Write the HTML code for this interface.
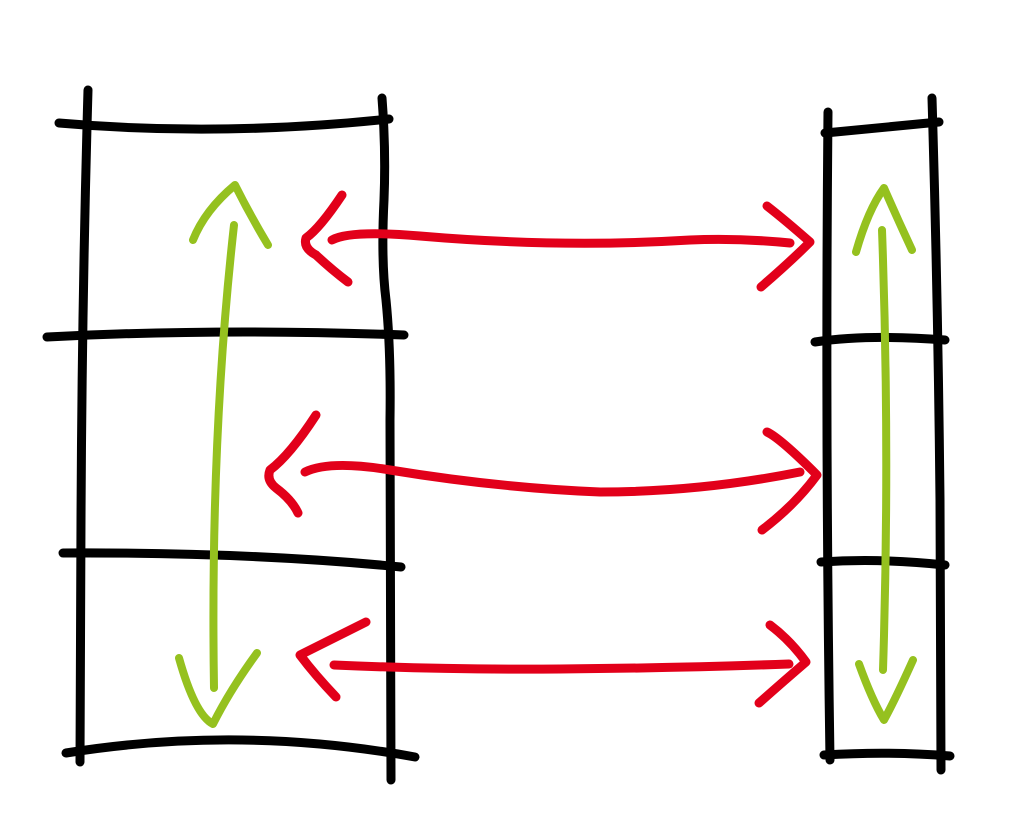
<!DOCTYPE html>
<html><head><meta charset="utf-8"><style>
html,body{margin:0;padding:0;background:#fff;}
svg{display:block;}
</style></head><body>
<svg width="1024" height="838" viewBox="0 0 1024 838" xmlns="http://www.w3.org/2000/svg" fill="none" stroke-linecap="round" stroke-linejoin="round">
<g stroke="#000" stroke-width="9">
<path d="M88 90 Q82 300 81 520 L80 762"/>
<path d="M382 98 Q386 150 384 200 Q381 260 386 300 Q391 350 390 420 L391 780"/>
<path d="M59 123 Q220 137 389 119"/>
<path d="M47 337 Q220 328 404 335"/>
<path d="M63 553 Q250 552 401 567"/>
<path d="M66 753 Q240 725 415 757"/>
<path d="M828 112 Q825 430 830 760"/>
<path d="M932 98 Q938 300 940 500 L941 770"/>
<path d="M825 133 L939 122"/>
<path d="M815 342 Q870 334 945 340"/>
<path d="M821 562 Q880 558 945 565"/>
<path d="M824 755 Q890 751 950 756"/>
</g>
<g stroke="#95c11f" stroke-width="8">
<path d="M234 225 Q210 440 214 688"/>
<path d="M193 240 Q205 210 235 185 Q250 215 268 245"/>
<path d="M179 658 Q195 715 213 724 Q230 690 257 653"/>
<path d="M882 230 Q890 450 883 670"/>
<path d="M856 252 Q868 210 884 188 Q898 220 912 250"/>
<path d="M859 664 Q872 700 884 720 Q895 700 913 660"/>
</g>
<g stroke="#e2001a" stroke-width="9">
<path d="M332 240 Q350 230 420 236 Q560 248 690 240 Q740 238 790 243"/>
<path d="M342 195 Q320 228 306 238 Q303 248 316 255 Q332 270 348 282"/>
<path d="M767 206 Q785 220 810 242 Q790 262 761 287"/>
<path d="M305 472 Q330 460 390 470 Q500 488 600 492 Q700 492 800 472"/>
<path d="M316 415 Q290 455 270 470 Q266 480 276 488 Q292 500 298 513"/>
<path d="M767 432 Q780 438 817 475 Q795 505 762 530"/>
<path d="M334 665 Q450 670 560 669 Q680 668 789 664"/>
<path d="M366 622 Q330 640 300 655 Q315 675 336 697"/>
<path d="M770 625 Q790 640 806 662 Q785 680 759 703"/>
</g>
</svg>
</body></html>
